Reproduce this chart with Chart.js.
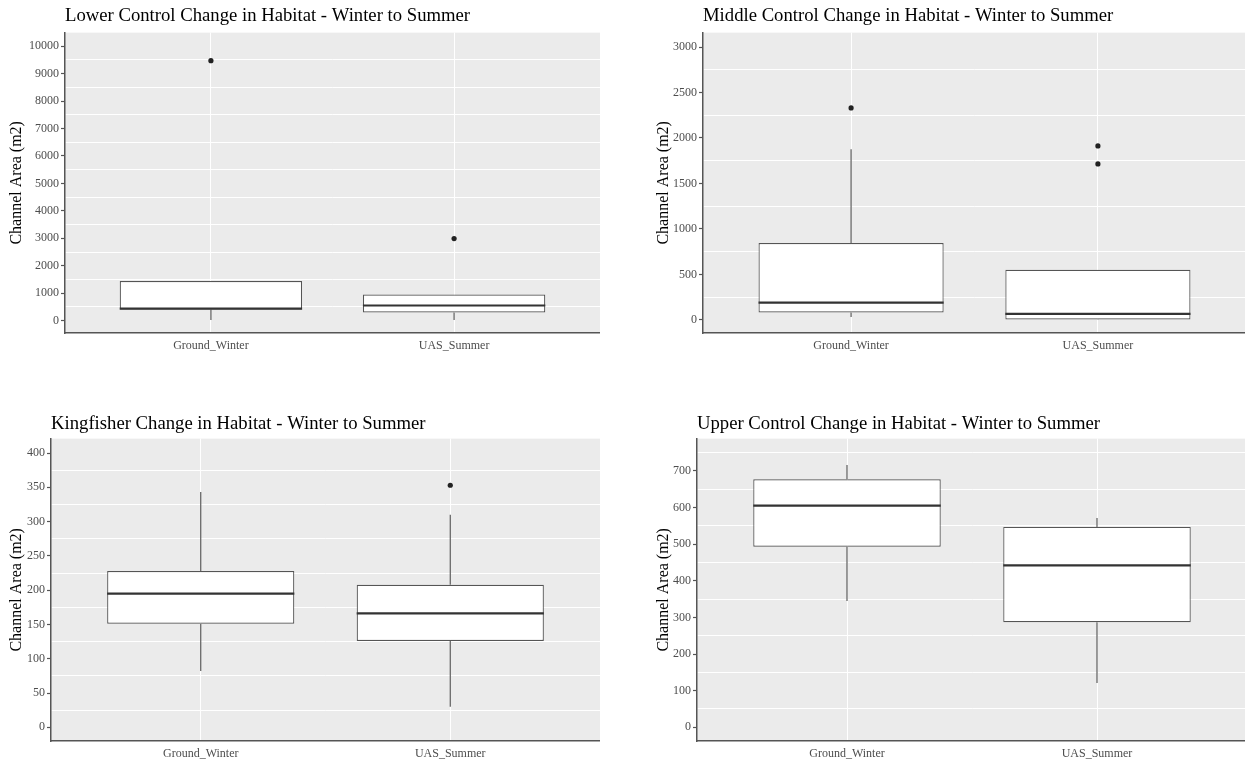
<!DOCTYPE html>
<html>
<head>
<meta charset="utf-8">
<script src="https://cdn.jsdelivr.net/npm/chart.js@4.4.1/dist/chart.umd.min.js"></script>
<style>
html,body{margin:0;padding:0;background:#fff;overflow:hidden;width:1245px;height:761px;}
canvas{position:absolute;display:block;}
</style>
</head>
<body>
<canvas id="c1"></canvas>
<canvas id="c2"></canvas>
<canvas id="c3"></canvas>
<canvas id="c4"></canvas>
<script>
// ---- Data ----
const categories = ['Ground_Winter', 'UAS_Summer'];
const yAxisLabel = 'Channel Area (m2)';

const titles = [
  'Lower Control Change in Habitat - Winter to Summer',
  'Middle Control Change in Habitat - Winter to Summer',
  'Kingfisher Change in Habitat - Winter to Summer',
  'Upper Control Change in Habitat - Winter to Summer'
];

// box stats per category: [lower whisker, Q1, median, Q3, upper whisker]
const lowerBoxes = [[20, 405, 435, 1445, 1445], [25, 300, 552, 955, 955]];
const lowerOutliers = [[9470], [2990]];
const lowerTicks = [0, 1000, 2000, 3000, 4000, 5000, 6000, 7000, 8000, 9000, 10000];

const middleBoxes = [[32, 80, 190, 845, 1875], [0, 4, 66, 550, 550]];
const middleOutliers = [[2330], [1912, 1714]];
const middleTicks = [0, 500, 1000, 1500, 2000, 2500, 3000];

const kingBoxes = [[82, 151, 195, 228, 343], [30, 126, 166, 208, 310]];
const kingOutliers = [[], [353]];
const kingTicks = [0, 50, 100, 150, 200, 250, 300, 350, 400];

const upperBoxes = [[345, 493, 605, 677, 716], [121, 287, 442, 547, 571]];
const upperOutliers = [[], []];
const upperTicks = [0, 100, 200, 300, 400, 500, 600, 700];

// ---- Layout / style configuration ----
const panels = [
  {id:'c1', title:titles[0], boxes:lowerBoxes, outliers:lowerOutliers, ticks:lowerTicks,
   yMin:-450, yMax:10490, left:0, top:0, w:600, h:363, axisW:65, tTop:5.0, tBot:5.2, yPad:7.6, xH:30},
  {id:'c2', title:titles[1], boxes:middleBoxes, outliers:middleOutliers, ticks:middleTicks,
   yMin:-145, yMax:3158, left:625, top:0, w:621, h:363, axisW:78, tTop:5.0, tBot:5.2, yPad:29.4, xH:30},
  {id:'c3', title:titles[2], boxes:kingBoxes, outliers:kingOutliers, ticks:kingTicks,
   yMin:-20, yMax:421, left:0, top:400, w:600, h:361, axisW:51, tTop:12.6, tBot:3.6, yPad:7.4, xH:20},
  {id:'c4', title:titles[3], boxes:upperBoxes, outliers:upperOutliers, ticks:upperTicks,
   yMin:-37.5, yMax:788, left:625, top:400, w:622, h:361, axisW:72, tTop:12.6, tBot:3.6, yPad:28.9, xH:20}
];

const FONT = 'Liberation Serif, Times New Roman, serif';
const TRANSPARENT = 'rgba(0,0,0,0)';

const bgPlugin = {
  id: 'panelBg',
  beforeDraw(chart) {
    const {ctx, chartArea: a} = chart;
    ctx.save();
    ctx.fillStyle = '#EBEBEB';
    ctx.fillRect(a.left, a.top, a.right - a.left, a.bottom - a.top);
    ctx.restore();
  }
};

function makeChart(p) {
  const canvas = document.getElementById(p.id);
  canvas.width = p.w; canvas.height = p.h;
  canvas.style.left = p.left + 'px'; canvas.style.top = p.top + 'px';
  canvas.style.width = p.w + 'px'; canvas.style.height = p.h + 'px';

  const boxData = p.boxes.map((b, i) => ({x: i + 1, y: [b[1], b[3]]}));
  const whiskers = [];
  p.boxes.forEach((b, i) => {
    whiskers.push({x: i + 1, y: b[3]}, {x: i + 1, y: b[4]}, {x: i + 1, y: null},
                  {x: i + 1, y: b[0]}, {x: i + 1, y: b[1]}, {x: i + 1, y: null});
  });
  const halfBox = 0.375;
  const medians = [];
  p.boxes.forEach((b, i) => {
    medians.push({x: i + 1 - halfBox, y: b[2]}, {x: i + 1 + halfBox, y: b[2]}, {x: i + 1, y: null});
  });
  const outs = [];
  p.outliers.forEach((arr, i) => arr.forEach(v => outs.push({x: i + 1, y: v})));

  const majors = p.ticks;
  const step = majors[1] - majors[0];
  const minors = [];
  for (let v = majors[0] - step / 2; v <= p.yMax; v += step) {
    if (v >= p.yMin) minors.push(v);
  }
  const allTicks = majors.concat(minors).sort((a, b) => a - b);
  const isMajor = v => majors.indexOf(v) !== -1;

  return new Chart(canvas, {
    type: 'bar',
    data: {
      datasets: [
        {type:'bar', data: boxData, backgroundColor:'#ffffff', borderColor:'#555555', borderWidth:1.2,
         borderSkipped:false, barPercentage:0.75, categoryPercentage:1, order:4},
        {type:'line', data: whiskers, borderColor:'#5c5c5c', borderWidth:1.2, pointRadius:0,
         spanGaps:false, fill:false, order:3},
        {type:'line', data: medians, borderColor:'#333333', borderWidth:2.2, pointRadius:0,
         spanGaps:false, fill:false, order:2},
        {type:'scatter', data: outs, pointRadius:2.6, backgroundColor:'#222222', borderWidth:0, order:1}
      ]
    },
    options: {
      responsive: false,
      animation: false,
      events: [],
      layout: {padding: 0, autoPadding: false},
      plugins: {
        legend: {display: false},
        tooltip: {enabled: false},
        title: {
          display: true, text: p.title, align: 'start', fullSize: false, color: '#000000',
          font: {family: FONT, size: 18.7, weight: 'normal', lineHeight: 1.2},
          padding: {top: p.tTop, bottom: p.tBot}
        }
      },
      scales: {
        x: {
          type: 'linear', min: 0.4, max: 2.6, offset: false,
          afterBuildTicks: s => { s.ticks = categories.map((c, i) => ({value: i + 1})); },
          afterFit: s => { s.height = p.xH; },
          grid: {offset: false, color: '#ffffff', lineWidth: 1, drawTicks: true, tickLength: 4, tickColor: TRANSPARENT},
          border: {display: true, color: '#555555', width: 1.5},
          ticks: {autoSkip: false, maxRotation: 0, padding: 2, color: '#4d4d4d',
                  font: {family: FONT, size: 12},
                  callback: v => categories[Math.round(v) - 1]}
        },
        y: {
          type: 'linear', min: p.yMin, max: p.yMax,
          afterBuildTicks: s => { s.ticks = allTicks.map(v => ({value: v})); },
          afterFit: s => { s.width = p.axisW; },
          grid: {
            color: c => (c.tick && isMajor(c.tick.value)) ? TRANSPARENT : '#ffffff',
            lineWidth: 1, drawTicks: true, tickLength: 4, tickWidth: 1.2,
            tickColor: c => (c.tick && isMajor(c.tick.value)) ? '#555555' : TRANSPARENT
          },
          border: {display: true, color: '#555555', width: 1.5},
          ticks: {autoSkip: false, padding: 2, color: '#4d4d4d', font: {family: FONT, size: 12},
                  callback: v => isMajor(v) ? String(v) : ''},
          title: {display: true, text: yAxisLabel, color: '#000000',
                  font: {family: FONT, size: 16, lineHeight: 1.2},
                  padding: {top: p.yPad, bottom: 0}}
        }
      }
    },
    plugins: [bgPlugin]
  });
}

panels.forEach(makeChart);
</script>
</body>
</html>
